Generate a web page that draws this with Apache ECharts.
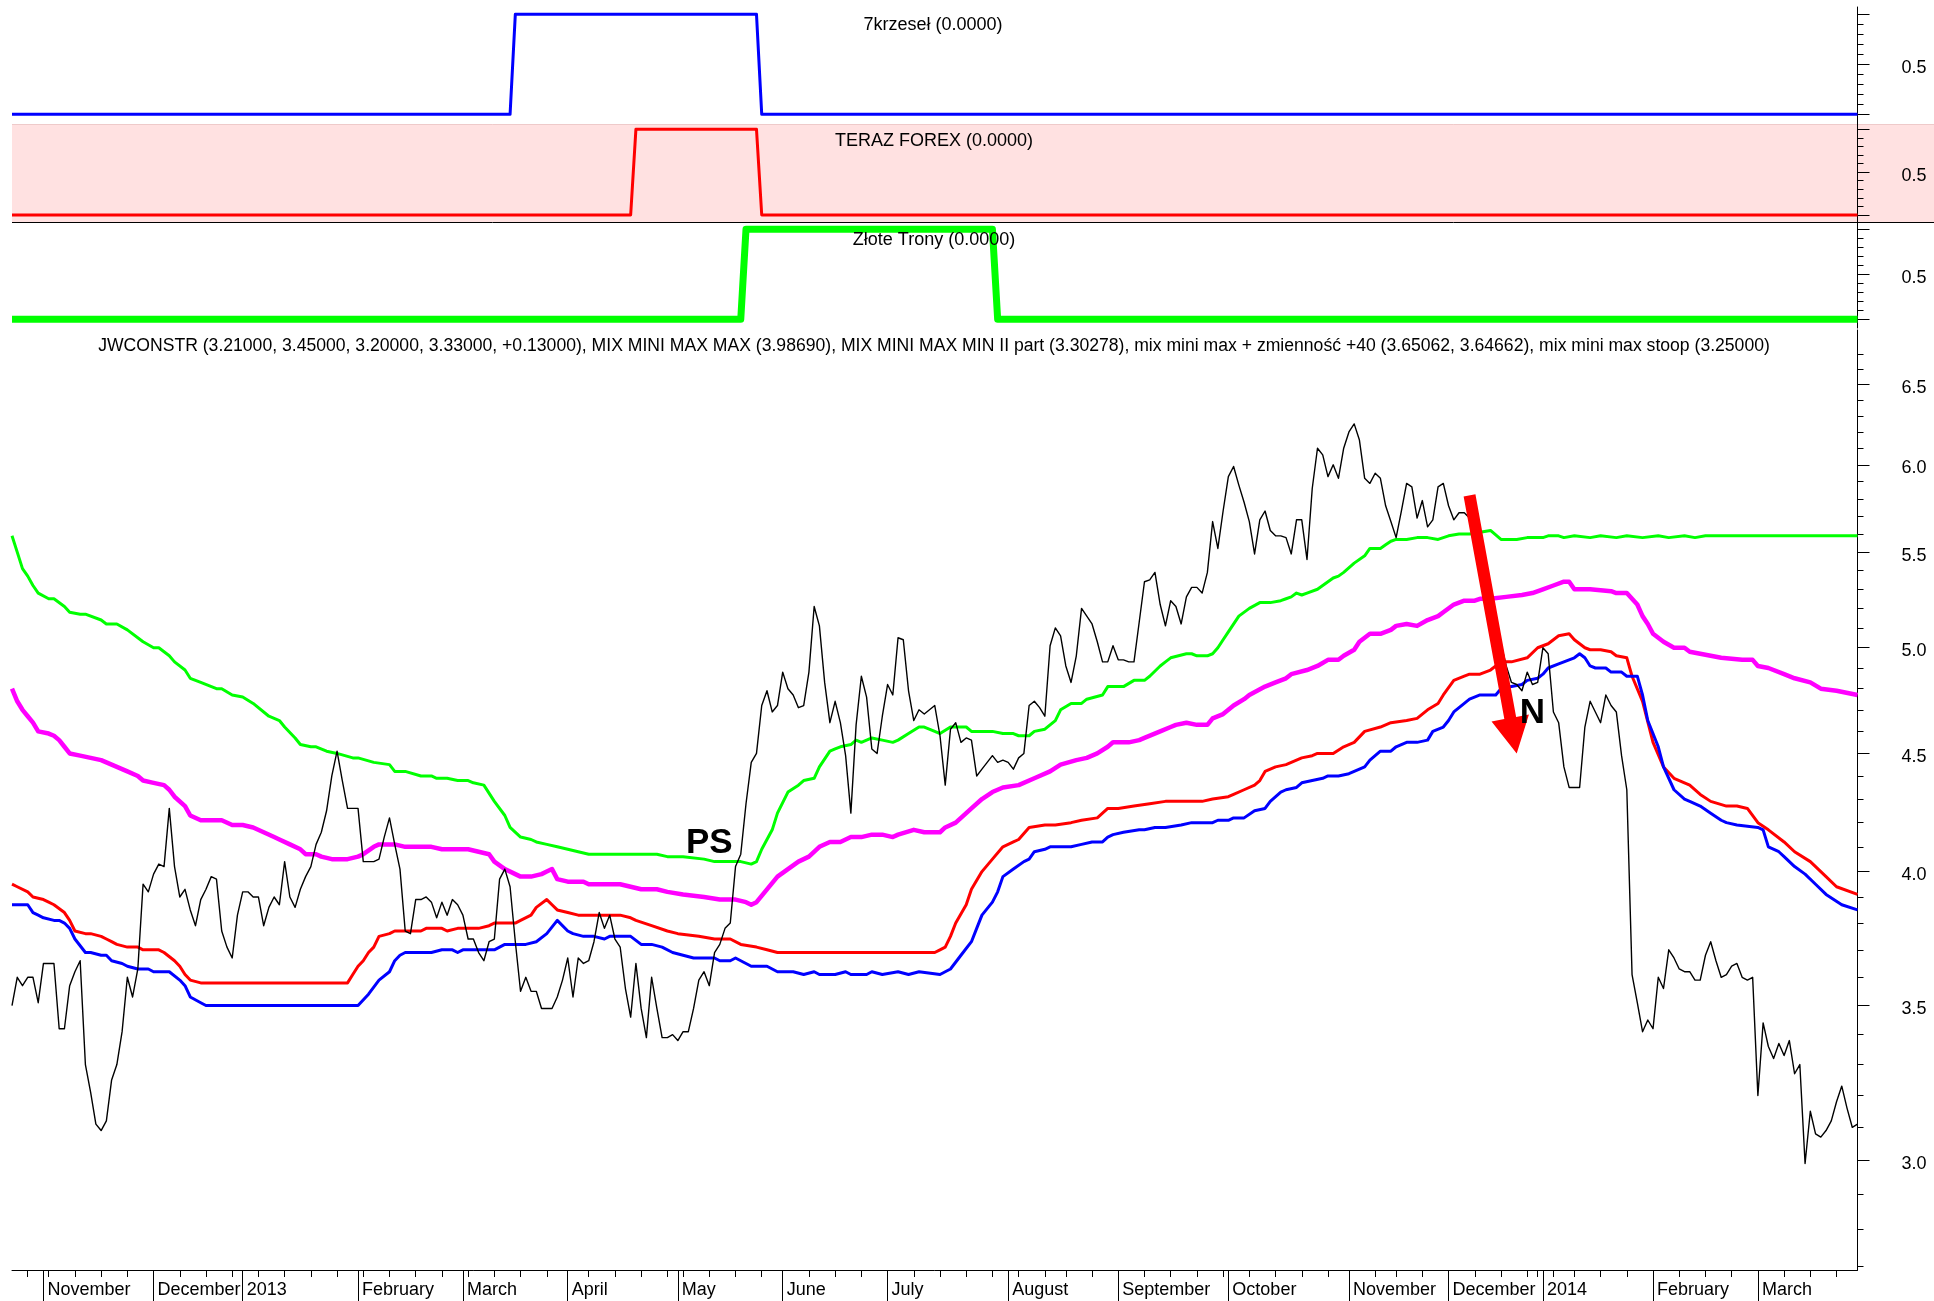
<!DOCTYPE html>
<html>
<head>
<meta charset="utf-8">
<script src="https://cdn.jsdelivr.net/npm/echarts@6/dist/echarts.min.js"></script>
<style>
  html, body { margin: 0; padding: 0; background: #fff; }
  #chart { width: 1934px; height: 1301px; }
</style>
</head>
<body>
<div id="chart"></div>
<script>
// ---------- trading calendar (WSE sessions) ----------
const firstDay = '2012-10-24';
const lastDay = '2014-03-28';
const closedDays = ['2012-11-01', '2012-12-24', '2012-12-25', '2012-12-26', '2012-12-31',
  '2013-01-01', '2013-03-29', '2013-04-01', '2013-05-01', '2013-05-03', '2013-05-30',
  '2013-08-15', '2013-11-01', '2013-11-11', '2013-12-24', '2013-12-25', '2013-12-26',
  '2013-12-31', '2014-01-01', '2014-01-06'];
const monthNames = ['January', 'February', 'March', 'April', 'May', 'June', 'July',
  'August', 'September', 'October', 'November', 'December'];

// ---------- JWCONSTR close, one per session ----------
const closes = [
  3.50, 3.60, 3.57, 3.60, 3.60, 3.51, 3.65, 3.65, 3.65, 3.42,
  3.42, 3.57, 3.62, 3.66, 3.30, 3.21, 3.11, 3.09, 3.12, 3.25,
  3.30, 3.41, 3.60, 3.53, 3.63, 3.95, 3.92, 3.99, 4.03, 4.02,
  4.26, 4.02, 3.90, 3.93, 3.85, 3.79, 3.89, 3.93, 3.98, 3.97,
  3.77, 3.71, 3.67, 3.83, 3.92, 3.92, 3.90, 3.90, 3.79, 3.86,
  3.90, 3.87, 4.04, 3.90, 3.86, 3.93, 3.98, 4.02, 4.11, 4.16,
  4.25, 4.40, 4.51, 4.38, 4.26, 4.26, 4.26, 4.04, 4.04, 4.04,
  4.05, 4.14, 4.22, 4.11, 4.01, 3.77, 3.76, 3.89, 3.89, 3.90,
  3.88, 3.82, 3.88, 3.83, 3.89, 3.87, 3.83, 3.74, 3.74, 3.69,
  3.66, 3.73, 3.74, 3.97, 4.01, 3.94, 3.73, 3.55, 3.60, 3.55,
  3.55, 3.49, 3.49, 3.49, 3.53, 3.59, 3.67, 3.53, 3.67, 3.65,
  3.66, 3.73, 3.84, 3.78, 3.83, 3.74, 3.71, 3.56, 3.46, 3.65,
  3.49, 3.39, 3.60, 3.49, 3.39, 3.39, 3.40, 3.38, 3.41, 3.41,
  3.49, 3.59, 3.62, 3.57, 3.69, 3.72, 3.78, 3.80, 4.02, 4.07,
  4.28, 4.46, 4.50, 4.72, 4.79, 4.69, 4.72, 4.88, 4.80, 4.77,
  4.71, 4.72, 4.88, 5.21, 5.11, 4.83, 4.64, 4.74, 4.64, 4.49,
  4.24, 4.63, 4.86, 4.76, 4.52, 4.50, 4.67, 4.82, 4.77, 5.05,
  5.04, 4.79, 4.65, 4.70, 4.68, 4.70, 4.72, 4.58, 4.36, 4.61,
  4.64, 4.55, 4.57, 4.56, 4.40, 4.43, 4.46, 4.49, 4.46, 4.47,
  4.46, 4.43, 4.48, 4.50, 4.72, 4.74, 4.71, 4.67, 5.01, 5.10,
  5.06, 4.91, 4.83, 4.96, 5.20, 5.16, 5.12, 5.03, 4.93, 4.93,
  5.01, 4.94, 4.94, 4.93, 4.93, 5.13, 5.34, 5.35, 5.39, 5.22,
  5.11, 5.24, 5.21, 5.12, 5.26, 5.31, 5.31, 5.28, 5.39, 5.67,
  5.52, 5.73, 5.93, 5.99, 5.88, 5.78, 5.67, 5.49, 5.68, 5.73,
  5.62, 5.59, 5.59, 5.58, 5.49, 5.68, 5.68, 5.46, 5.86, 6.10,
  6.06, 5.93, 6.00, 5.92, 6.10, 6.20, 6.25, 6.15, 5.92, 5.89,
  5.95, 5.92, 5.76, 5.67, 5.58, 5.73, 5.89, 5.87, 5.69, 5.79,
  5.64, 5.68, 5.87, 5.89, 5.76, 5.68, 5.72, 5.72, 5.69, 5.57,
  5.45, 5.34, 5.23, 5.12, 5.02, 4.91, 4.83, 4.82, 4.79, 4.88,
  4.82, 4.83, 5.00, 4.97, 4.69, 4.64, 4.44, 4.35, 4.35, 4.35,
  4.62, 4.74, 4.69, 4.64, 4.77, 4.72, 4.69, 4.49, 4.34, 3.61,
  3.51, 3.41, 3.45, 3.42, 3.60, 3.56, 3.70, 3.67, 3.63, 3.62,
  3.62, 3.59, 3.59, 3.68, 3.73, 3.66, 3.60, 3.61, 3.64, 3.65,
  3.60, 3.59, 3.60, 3.20, 3.44, 3.36, 3.32, 3.37, 3.33, 3.38,
  3.27, 3.30, 2.99, 3.15, 3.08, 3.07, 3.09, 3.12, 3.18, 3.23,
  3.16, 3.10, 3.11
];

// ---------- indicator lines: [session index, value] read at the vertices ----------
const mixMaxGreen = [[0,5.59],[1,5.50],[2,5.41],[3,5.37],[4,5.32],[5,5.28],[7,5.25],[8,5.25],[10,5.21],[11,5.18],[13,5.17],[14,5.17],[17,5.14],[18,5.12],[20,5.12],[22,5.09],[25,5.03],[27,5.00],[28,5.00],[29,4.98],[30,4.96],[31,4.93],[33,4.89],[34,4.85],[36,4.83],[39,4.80],[40,4.80],[42,4.77],[44,4.76],[46,4.73],[49,4.67],[50,4.66],[51,4.65],[52,4.62],[54,4.57],[55,4.54],[57,4.53],[58,4.53],[60,4.51],[62,4.50],[65,4.48],[66,4.48],[69,4.46],[72,4.45],[73,4.42],[75,4.42],[78,4.40],[80,4.40],[81,4.39],[83,4.39],[85,4.38],[87,4.38],[88,4.37],[90,4.36],[92,4.29],[94,4.23],[95,4.18],[97,4.14],[99,4.13],[100,4.12],[102,4.11],[104,4.10],[106,4.09],[108,4.08],[110,4.07],[115,4.07],[123,4.07],[125,4.06],[128,4.06],[132,4.05],[134,4.04],[139,4.04],[141,4.03],[142,4.04],[143,4.09],[145,4.17],[146,4.24],[148,4.33],[150,4.36],[151,4.38],[153,4.39],[154,4.44],[156,4.51],[157,4.52],[158,4.53],[160,4.54],[161,4.56],[162,4.55],[164,4.57],[166,4.56],[168,4.55],[169,4.56],[171,4.59],[173,4.62],[174,4.62],[176,4.60],[177,4.59],[179,4.62],[182,4.62],[183,4.60],[187,4.60],[189,4.59],[191,4.59],[192,4.58],[194,4.58],[195,4.60],[197,4.61],[199,4.65],[200,4.70],[202,4.73],[204,4.73],[205,4.75],[208,4.77],[209,4.81],[212,4.81],[214,4.84],[216,4.84],[217,4.86],[219,4.91],[220,4.93],[221,4.95],[224,4.97],[225,4.97],[226,4.96],[228,4.96],[229,4.97],[230,5.00],[231,5.04],[232,5.08],[234,5.16],[236,5.20],[238,5.23],[240,5.23],[242,5.24],[243,5.25],[244,5.26],[245,5.28],[246,5.27],[247,5.28],[249,5.30],[252,5.36],[253,5.37],[254,5.39],[256,5.44],[258,5.48],[259,5.52],[261,5.52],[262,5.54],[263,5.56],[264,5.57],[266,5.57],[268,5.58],[270,5.58],[272,5.57],[274,5.59],[276,5.60],[278,5.60],[280,5.61],[282,5.62],[284,5.57],[287,5.57],[289,5.58],[292,5.58],[293,5.59],[295,5.59],[296,5.58],[298,5.59],[301,5.58],[303,5.59],[306,5.58],[308,5.59],[311,5.58],[314,5.59],[316,5.58],[319,5.59],[321,5.58],[323,5.59],[352,5.59]];

const zmiennoscMagenta = [[0,4.80],[1,4.74],[2,4.70],[3,4.67],[4,4.64],[5,4.60],[7,4.59],[8,4.58],[9,4.56],[10,4.53],[11,4.50],[13,4.49],[15,4.48],[17,4.47],[18,4.46],[20,4.44],[22,4.42],[24,4.40],[25,4.38],[27,4.37],[29,4.36],[30,4.34],[31,4.31],[33,4.27],[34,4.23],[36,4.21],[40,4.21],[42,4.19],[44,4.19],[46,4.18],[48,4.16],[50,4.14],[51,4.13],[53,4.11],[55,4.09],[56,4.07],[58,4.07],[59,4.06],[61,4.05],[64,4.05],[66,4.06],[67,4.07],[69,4.10],[70,4.11],[73,4.11],[75,4.10],[80,4.10],[82,4.09],[87,4.09],[89,4.08],[91,4.07],[92,4.04],[94,4.01],[96,3.99],[97,3.98],[99,3.98],[101,3.99],[102,4.00],[103,4.01],[104,3.97],[106,3.96],[109,3.96],[110,3.95],[116,3.95],[118,3.94],[120,3.93],[123,3.93],[125,3.92],[128,3.91],[132,3.90],[135,3.89],[138,3.89],[140,3.88],[141,3.87],[142,3.88],[144,3.93],[146,3.98],[148,4.01],[150,4.04],[152,4.06],[154,4.10],[156,4.12],[158,4.12],[160,4.14],[162,4.14],[164,4.15],[166,4.15],[168,4.14],[169,4.15],[172,4.17],[174,4.16],[177,4.16],[178,4.18],[180,4.20],[182,4.24],[183,4.26],[185,4.30],[187,4.33],[189,4.35],[192,4.36],[195,4.39],[198,4.42],[200,4.45],[203,4.47],[205,4.48],[207,4.50],[209,4.53],[210,4.55],[213,4.55],[215,4.56],[216,4.57],[219,4.60],[221,4.62],[222,4.63],[224,4.64],[226,4.63],[228,4.63],[229,4.66],[231,4.68],[233,4.72],[235,4.75],[236,4.77],[239,4.81],[241,4.83],[243,4.85],[244,4.87],[247,4.89],[249,4.91],[251,4.94],[253,4.94],[254,4.96],[256,4.99],[257,5.03],[259,5.07],[261,5.07],[263,5.09],[264,5.11],[266,5.12],[268,5.11],[270,5.14],[272,5.16],[273,5.18],[275,5.22],[277,5.24],[279,5.24],[280,5.25],[282,5.25],[285,5.26],[288,5.27],[290,5.28],[292,5.30],[294,5.32],[296,5.34],[297,5.34],[298,5.30],[301,5.30],[305,5.29],[306,5.28],[308,5.28],[310,5.22],[311,5.16],[312,5.12],[313,5.07],[315,5.03],[317,5.00],[319,5.00],[320,4.98],[322,4.97],[324,4.96],[326,4.95],[330,4.94],[332,4.94],[333,4.91],[335,4.90],[338,4.87],[340,4.85],[343,4.83],[345,4.80],[348,4.79],[352,4.77]];

const mixMinRed = [[0,3.95],[1,3.94],[3,3.92],[4,3.90],[6,3.89],[7,3.88],[8,3.87],[10,3.84],[11,3.81],[12,3.77],[14,3.76],[15,3.76],[17,3.75],[18,3.74],[19,3.73],[20,3.72],[22,3.71],[24,3.71],[25,3.70],[28,3.70],[29,3.69],[31,3.66],[32,3.64],[33,3.61],[34,3.59],[36,3.58],[64,3.58],[65,3.61],[66,3.64],[67,3.66],[68,3.69],[69,3.71],[70,3.75],[72,3.76],[73,3.77],[78,3.77],[79,3.78],[82,3.78],[83,3.77],[85,3.78],[89,3.78],[91,3.79],[92,3.80],[96,3.80],[97,3.81],[99,3.83],[100,3.86],[102,3.89],[103,3.87],[104,3.85],[106,3.84],[108,3.83],[116,3.83],[118,3.82],[119,3.81],[122,3.79],[125,3.77],[127,3.76],[131,3.75],[134,3.74],[137,3.74],[139,3.72],[142,3.71],[144,3.70],[146,3.69],[176,3.69],[177,3.70],[178,3.71],[179,3.75],[180,3.80],[182,3.87],[183,3.93],[185,4.00],[187,4.05],[189,4.10],[191,4.12],[192,4.13],[194,4.18],[197,4.19],[199,4.19],[202,4.20],[204,4.21],[207,4.22],[209,4.26],[211,4.26],[214,4.27],[217,4.28],[220,4.29],[227,4.29],[229,4.30],[232,4.31],[233,4.32],[235,4.34],[237,4.36],[238,4.38],[239,4.42],[241,4.44],[243,4.45],[246,4.48],[248,4.49],[249,4.50],[252,4.50],[254,4.53],[256,4.55],[258,4.60],[261,4.62],[263,4.64],[266,4.65],[268,4.66],[270,4.70],[272,4.73],[273,4.77],[275,4.84],[277,4.86],[278,4.87],[280,4.87],[282,4.89],[284,4.93],[286,4.93],[289,4.95],[291,5.00],[293,5.02],[295,5.06],[297,5.07],[298,5.04],[300,5.00],[301,4.99],[303,4.99],[305,4.98],[306,4.96],[308,4.95],[309,4.86],[311,4.74],[313,4.55],[315,4.44],[317,4.39],[318,4.38],[320,4.36],[322,4.32],[324,4.29],[327,4.27],[329,4.27],[331,4.26],[333,4.20],[335,4.17],[338,4.12],[340,4.08],[343,4.04],[346,3.98],[348,3.94],[352,3.91]];

const stoopBlue = [[0,3.87],[3,3.87],[4,3.84],[5,3.83],[6,3.82],[8,3.81],[9,3.81],[10,3.80],[11,3.78],[12,3.74],[14,3.69],[15,3.69],[17,3.68],[18,3.68],[19,3.66],[21,3.65],[22,3.64],[24,3.63],[26,3.63],[27,3.62],[30,3.62],[32,3.59],[33,3.57],[34,3.53],[36,3.51],[37,3.50],[66,3.50],[68,3.54],[70,3.59],[72,3.62],[73,3.66],[74,3.68],[75,3.69],[80,3.69],[82,3.70],[84,3.70],[85,3.69],[86,3.70],[92,3.70],[94,3.72],[98,3.72],[100,3.73],[102,3.76],[104,3.81],[106,3.77],[107,3.76],[109,3.75],[111,3.75],[113,3.74],[114,3.75],[118,3.75],[120,3.72],[122,3.72],[124,3.71],[126,3.69],[128,3.68],[130,3.67],[134,3.67],[135,3.66],[137,3.66],[138,3.67],[140,3.65],[141,3.64],[144,3.64],[146,3.62],[149,3.62],[151,3.61],[153,3.62],[154,3.61],[157,3.61],[159,3.62],[160,3.61],[163,3.61],[164,3.62],[166,3.61],[169,3.62],[171,3.61],[173,3.62],[177,3.61],[178,3.62],[179,3.63],[181,3.68],[183,3.73],[184,3.78],[185,3.83],[187,3.88],[188,3.92],[189,3.98],[191,4.01],[193,4.04],[194,4.05],[195,4.08],[197,4.09],[198,4.10],[202,4.10],[204,4.11],[206,4.12],[208,4.12],[209,4.14],[210,4.15],[212,4.16],[215,4.17],[216,4.17],[218,4.18],[220,4.18],[223,4.19],[225,4.20],[229,4.20],[230,4.21],[232,4.21],[233,4.22],[235,4.22],[237,4.25],[239,4.26],[240,4.29],[242,4.33],[243,4.34],[245,4.35],[246,4.37],[248,4.38],[250,4.39],[251,4.40],[253,4.40],[255,4.41],[257,4.43],[258,4.44],[259,4.47],[261,4.51],[263,4.51],[264,4.53],[266,4.55],[268,4.55],[270,4.56],[271,4.60],[273,4.62],[274,4.65],[275,4.69],[277,4.73],[278,4.75],[280,4.77],[283,4.77],[284,4.80],[286,4.81],[288,4.82],[289,4.84],[291,4.85],[292,4.87],[293,4.90],[295,4.92],[296,4.93],[298,4.95],[299,4.97],[300,4.95],[301,4.91],[302,4.90],[304,4.90],[305,4.88],[307,4.88],[308,4.86],[310,4.86],[311,4.77],[312,4.65],[314,4.53],[315,4.44],[317,4.34],[319,4.30],[320,4.29],[322,4.27],[324,4.24],[326,4.21],[327,4.20],[329,4.19],[333,4.18],[334,4.17],[335,4.10],[337,4.08],[338,4.06],[340,4.02],[342,3.99],[344,3.95],[346,3.91],[349,3.87],[352,3.85]];

// ---------- signal panes: [session index, value] ----------
const sig7krzesel = [[0,0],[95,0],[96,1],[142,1],[143,0],[352,0]];
const sigTerazForex = [[0,0],[118,0],[119,1],[142,1],[143,0],[352,0]];
const sigZloteTrony = [[0,0],[139,0],[140,1],[187,1],[188,0],[352,0]];

// ---------- axis ticks ----------
const paneMajorTicks = [0, 0.5, 1];
const paneMinorTicks = [0, 0.1, 0.2, 0.3, 0.4, 0.5, 0.6, 0.7, 0.8, 0.9, 1];
const paneLabels = [0.5];
const mainMajorTicks = [3.0, 3.5, 4.0, 4.5, 5.0, 5.5, 6.0, 6.5];
const mainMinorTicks = [2.7, 2.8, 2.9, 3.0, 3.1, 3.2, 3.3, 3.4, 3.5, 3.6, 3.7, 3.8, 3.9,
  4.0, 4.1, 4.2, 4.3, 4.4, 4.5, 4.6, 4.7, 4.8, 4.9, 5.0, 5.1, 5.2, 5.3, 5.4, 5.5, 5.6,
  5.7, 5.8, 5.9, 6.0, 6.1, 6.2, 6.3, 6.4, 6.5, 6.6, 6.7];

// ---------- texts ----------
const paneTitles = ['7krzeseł (0.0000)', 'TERAZ FOREX (0.0000)', 'Złote Trony (0.0000)'];
const mainTitle = 'JWCONSTR (3.21000, 3.45000, 3.20000, 3.33000, +0.13000), MIX MINI MAX MAX (3.98690), MIX MINI MAX MIN II part (3.30278), mix mini max + zmienność +40 (3.65062, 3.64662), mix mini max stoop (3.25000)';
const notePS = { text: 'PS', at: [133, 4.115] };
const noteN = { text: 'N', at: [290, 4.684] };
const arrowFrom = [278, 5.82];
const arrowTo = [287, 4.50];

// ======================================================
const FONT = '"Liberation Sans", Arial, Helvetica, sans-serif';
const dates = [];
for (let t = Date.UTC(2012, 9, 24); t <= Date.UTC(2014, 2, 28); t += 86400000) {
  const d = new Date(t);
  const dow = d.getUTCDay();
  const s = d.toISOString().slice(0, 10);
  if (dow === 0 || dow === 6 || closedDays.includes(s)) continue;
  dates.push(s);
}
const weekOf = s => Math.floor((Date.parse(s) / 86400000 + 3) / 7);
const isMonthStart = i => i > 0 && dates[i].slice(0, 7) !== dates[i - 1].slice(0, 7);
const isWeekStart = i => i > 0 && weekOf(dates[i]) !== weekOf(dates[i - 1]);

const GRID_L = 12, GRID_R = 76.5;
const grids = [
  { left: GRID_L, right: GRID_R, top: 7, height: 117 },
  { left: GRID_L, right: GRID_R, top: 124, height: 98 },
  { left: GRID_L, right: GRID_R, top: 222, height: 106 },
  { left: GRID_L, right: GRID_R, top: 330, height: 940 }
];
const paneRange = [[-0.097, 1.073], [-0.082, 1.062], [-0.097, 1.081]];

const labelStyle = { color: '#000', fontSize: 18, fontFamily: FONT };
// y labels sit a few px below their tick, as in the original
const yLabelStyle = { ...labelStyle, verticalAlign: 'top', lineHeight: 7 };
const blackLine = { lineStyle: { color: '#000', width: 1 } };

const xAxes = [0, 1, 2].map(g => ({
  type: 'category', gridIndex: g, data: dates, boundaryGap: false, show: false
}));
xAxes.push({
  type: 'category', gridIndex: 3, data: dates, boundaryGap: false, position: 'bottom',
  axisLine: { onZero: false, ...blackLine },
  axisTick: { interval: i => isWeekStart(i), length: 7, ...blackLine },
  axisLabel: { show: false }, splitLine: { show: false }
});
xAxes.push({
  type: 'category', gridIndex: 3, data: dates, boundaryGap: false, position: 'bottom',
  axisLine: { show: false, onZero: false },
  axisTick: { interval: i => isMonthStart(i), length: 31, ...blackLine },
  axisLabel: {
    interval: i => isMonthStart(i), align: 'left', margin: 11.5, padding: [0, 0, 0, 4],
    ...labelStyle,
    formatter: v => {
      const m = +v.slice(5, 7) - 1;
      return m === 0 ? v.slice(0, 4) : monthNames[m];
    }
  },
  splitLine: { show: false }
});

const yAxes = [];
[0, 1, 2].forEach(g => {
  yAxes.push({
    type: 'value', gridIndex: g, position: 'right', min: paneRange[g][0], max: paneRange[g][1],
    axisLine: { show: true, onZero: false, ...blackLine },
    axisTick: { show: true, customValues: paneMajorTicks, length: 12, ...blackLine },
    axisLabel: { customValues: paneLabels, margin: 44, ...yLabelStyle, formatter: v => v.toFixed(1) },
    splitLine: { show: false }
  });
  yAxes.push({
    type: 'value', gridIndex: g, position: 'right', min: paneRange[g][0], max: paneRange[g][1],
    axisLine: { show: false, onZero: false },
    axisTick: { show: true, customValues: paneMinorTicks, length: 6, ...blackLine },
    axisLabel: { show: false }, splitLine: { show: false }
  });
});
yAxes.push({
  type: 'log', gridIndex: 3, position: 'right', min: 2.689, max: 6.863,
  axisLine: { show: true, onZero: false, ...blackLine },
  axisTick: { show: true, customValues: mainMajorTicks, length: 12, ...blackLine },
  axisLabel: { customValues: mainMajorTicks, margin: 44, ...yLabelStyle, formatter: v => (+v).toFixed(1) },
  splitLine: { show: false }
});
yAxes.push({
  type: 'log', gridIndex: 3, position: 'right', min: 2.689, max: 6.863,
  axisLine: { show: false, onZero: false },
  axisTick: { show: true, customValues: mainMinorTicks, length: 6, ...blackLine },
  axisLabel: { show: false }, splitLine: { show: false }
});

function line(name, data, xi, yi, color, width, z) {
  return {
    name, type: 'line', data, xAxisIndex: xi, yAxisIndex: yi,
    symbol: 'none', showSymbol: false, silent: true, z: z || 2,
    lineStyle: { color, width, join: 'round' }
  };
}

const series = [
  line('7krzeseł', sig7krzesel, 0, 0, '#0000ff', 3),
  line('TERAZ FOREX', sigTerazForex, 1, 2, '#ff0000', 3),
  line('Złote Trony', sigZloteTrony, 2, 4, '#00ff00', 7),
  line('MIX MINI MAX MAX', mixMaxGreen, 3, 6, '#00ff00', 3),
  line('mix mini max + zmienność +40', zmiennoscMagenta, 3, 6, '#ff00ff', 4.5),
  line('MIX MINI MAX MIN II part', mixMinRed, 3, 6, '#ff0000', 3),
  line('mix mini max stoop', stoopBlue, 3, 6, '#0000ff', 3),
  line('JWCONSTR', closes, 3, 6, '#000000', 1.4, 4)
];

const textEl = (text, x, y, size) => ({
  type: 'text', z: 50,
  style: { text, x, y, fill: '#000', font: (size || 18) + 'px ' + FONT,
    align: 'center', verticalAlign: 'middle', textAlign: 'center', textVerticalAlign: 'middle' }
});

const baseGraphic = [
  { type: 'rect', z: -1, shape: { x: GRID_L, y: 124, width: 1934 - GRID_L, height: 98 },
    style: { fill: '#ffe1e1' } },
  { type: 'line', z: -1, shape: { x1: GRID_L, y1: 124.5, x2: 1934, y2: 124.5 },
    style: { stroke: '#eecaca', lineWidth: 1 } },
  { type: 'line', z: 5, shape: { x1: GRID_L, y1: 222.5, x2: 1934, y2: 222.5 },
    style: { stroke: '#000', lineWidth: 1 } },
  textEl(paneTitles[0], 933, 25),
  textEl(paneTitles[1], 934, 141),
  textEl(paneTitles[2], 934, 240),
  textEl(mainTitle, 934, 346, 17.6)
];

const chart = echarts.init(document.getElementById('chart'), null, { renderer: 'canvas' });
chart.setOption({
  animation: false,
  backgroundColor: '#fff',
  grid: grids,
  xAxis: xAxes,
  yAxis: yAxes,
  series,
  graphic: baseGraphic
});

// annotations placed through the price axes
const toPx = p => chart.convertToPixel({ seriesIndex: 7 }, p);
const a = toPx(arrowFrom), b = toPx(arrowTo);
const dx = b[0] - a[0], dy = b[1] - a[1], len = Math.hypot(dx, dy);
const ux = dx / len, uy = dy / len, nx = -uy, ny = ux;
const headLen = 36, headHalf = 19, shaftHalf = 6;
const bx = b[0] - ux * headLen, by = b[1] - uy * headLen;
const arrowPts = [
  [a[0] + nx * shaftHalf, a[1] + ny * shaftHalf],
  [bx + nx * shaftHalf, by + ny * shaftHalf],
  [bx + nx * headHalf, by + ny * headHalf],
  [b[0], b[1]],
  [bx - nx * headHalf, by - ny * headHalf],
  [bx - nx * shaftHalf, by - ny * shaftHalf],
  [a[0] - nx * shaftHalf, a[1] - ny * shaftHalf]
];
const ps = toPx(notePS.at), nn = toPx(noteN.at);
const boldFont = '700 35px ' + FONT;
const noteEl = (text, p) => ({
  type: 'text', z: 60,
  style: { text, x: p[0], y: p[1], fill: '#000', font: boldFont,
    align: 'center', verticalAlign: 'middle', textAlign: 'center', textVerticalAlign: 'middle' }
});
chart.setOption({
  graphic: baseGraphic.concat([
    { type: 'polygon', z: 60, shape: { points: arrowPts }, style: { fill: '#ff0000' } },
    noteEl(notePS.text, ps),
    noteEl(noteN.text, nn)
  ])
});
</script>
</body>
</html>
